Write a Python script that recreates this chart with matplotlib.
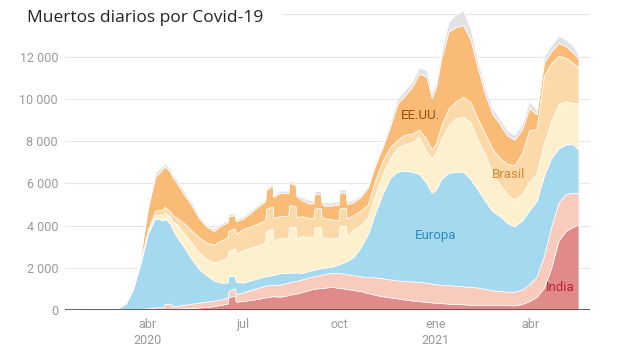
import matplotlib
matplotlib.use("Agg")
import matplotlib.pyplot as plt
import pandas as pd
import numpy as np

# ---- data (daily deaths, 7-day average, in thousands) ----
dates = [
    "2020-01-22", "2020-02-12", "2020-02-26", "2020-03-04", "2020-03-11", "2020-03-18",
    "2020-03-25", "2020-04-01", "2020-04-08", "2020-04-16", "2020-04-17", "2020-04-23",
    "2020-04-24", "2020-04-29", "2020-05-06", "2020-05-13", "2020-05-20", "2020-05-27",
    "2020-06-03", "2020-06-10", "2020-06-16", "2020-06-17", "2020-06-23", "2020-06-24",
    "2020-07-01", "2020-07-08", "2020-07-15", "2020-07-22", "2020-07-23", "2020-07-29",
    "2020-07-30", "2020-08-05", "2020-08-13", "2020-08-14", "2020-08-20", "2020-08-21",
    "2020-08-26", "2020-09-02", "2020-09-06", "2020-09-07", "2020-09-13", "2020-09-14",
    "2020-09-16", "2020-09-23", "2020-09-30", "2020-10-01", "2020-10-07", "2020-10-08",
    "2020-10-14", "2020-10-21", "2020-10-28", "2020-11-04", "2020-11-11", "2020-11-18",
    "2020-11-25", "2020-12-02", "2020-12-09", "2020-12-16", "2020-12-23", "2020-12-28",
    "2021-01-01", "2021-01-06", "2021-01-13", "2021-01-20", "2021-01-27", "2021-02-03",
    "2021-02-10", "2021-02-17", "2021-02-24", "2021-03-03", "2021-03-10", "2021-03-17",
    "2021-03-24", "2021-03-31", "2021-04-07", "2021-04-14", "2021-04-21", "2021-04-28",
    "2021-05-05", "2021-05-12", "2021-05-17",
]
india = [
    0, 0, 0, 0, 0, 0,
    0, 0.01, 0.02, 0.03, 0.03, 0.04,
    0.04, 0.06, 0.08, 0.10, 0.12, 0.15,
    0.18, 0.25, 0.30, 0.60, 0.68, 0.40,
    0.42, 0.48, 0.52, 0.60, 0.60, 0.65,
    0.65, 0.63, 0.70, 0.72, 0.78, 0.78,
    0.85, 0.95, 1.00, 1.00, 1.05, 1.05,
    1.05, 1.10, 1.05, 1.05, 1.00, 1.00,
    0.95, 0.90, 0.80, 0.72, 0.65, 0.60,
    0.55, 0.50, 0.45, 0.42, 0.38, 0.36,
    0.34, 0.33, 0.30, 0.28, 0.27, 0.25,
    0.24, 0.23, 0.23, 0.23, 0.23, 0.22,
    0.28, 0.42, 0.62, 1.05, 2.00, 3.30,
    3.75, 3.95, 4.05,
]
asia = [
    0, 0.08, 0.03, 0.03, 0.03, 0.04,
    0.05, 0.07, 0.10, 0.12, 0.25, 0.26,
    0.13, 0.14, 0.17, 0.20, 0.23, 0.25,
    0.27, 0.25, 0.30, 0.30, 0.35, 0.35,
    0.42, 0.47, 0.53, 0.55, 0.55, 0.55,
    0.55, 0.57, 0.60, 0.60, 0.60, 0.60,
    0.60, 0.60, 0.60, 0.60, 0.62, 0.62,
    0.65, 0.65, 0.70, 0.70, 0.70, 0.70,
    0.70, 0.70, 0.75, 0.83, 0.85, 0.85,
    0.85, 0.88, 0.90, 0.91, 0.92, 0.89,
    0.88, 0.87, 0.88, 0.87, 0.85, 0.85,
    0.82, 0.77, 0.70, 0.67, 0.64, 0.65,
    0.70, 0.80, 0.95, 1.50, 1.95, 1.80,
    1.75, 1.60, 1.50,
]
europa = [
    0, 0, 0.02, 0.07, 0.27, 0.96,
    2.15, 3.52, 4.23, 4.10, 4.08, 3.75,
    3.70, 3.25, 2.70, 2.10, 1.60, 1.25,
    0.95, 0.80, 0.70, 0.70, 0.60, 0.60,
    0.45, 0.45, 0.45, 0.45, 0.45, 0.45,
    0.45, 0.55, 0.45, 0.45, 0.40, 0.40,
    0.30, 0.30, 0.30, 0.30, 0.32, 0.32,
    0.30, 0.30, 0.40, 0.42, 0.60, 0.62,
    0.85, 1.35, 2.05, 3.05, 4.00, 4.80,
    5.15, 5.22, 5.20, 5.12, 4.70, 4.30,
    4.48, 5.00, 5.32, 5.40, 5.43, 5.10,
    4.64, 4.15, 3.75, 3.55, 3.25, 3.10,
    3.25, 3.50, 3.60, 3.80, 3.25, 2.55,
    2.35, 2.30, 2.05,
]
latam = [
    0, 0, 0, 0, 0, 0.02,
    0.05, 0.10, 0.15, 0.27, 0.28, 0.33,
    0.35, 0.60, 0.65, 0.75, 0.80, 0.75,
    0.85, 1.05, 1.20, 1.20, 1.30, 1.30,
    1.55, 1.55, 1.55, 1.60, 2.15, 2.20,
    1.65, 1.65, 1.65, 2.15, 2.15, 1.60,
    1.75, 1.60, 1.55, 2.00, 1.95, 1.50,
    1.40, 1.35, 1.25, 1.80, 1.70, 1.15,
    1.30, 1.05, 0.80, 0.90, 0.95, 0.90,
    1.15, 1.25, 1.40, 1.75, 1.50, 1.65,
    1.75, 1.90, 2.25, 2.55, 2.60, 2.70,
    2.35, 2.20, 1.75, 1.50, 1.35, 1.25,
    1.25, 1.35, 1.30, 1.55, 1.75, 2.10,
    2.05, 1.95, 2.20,
]
brasil = [
    0, 0, 0, 0, 0, 0.02,
    0.05, 0.10, 0.20, 0.25, 0.25, 0.28,
    0.30, 0.30, 0.50, 0.60, 0.70, 0.80,
    0.85, 0.95, 0.95, 0.95, 0.95, 0.95,
    1.00, 1.00, 1.05, 1.05, 1.05, 1.05,
    1.05, 1.05, 1.05, 1.05, 1.00, 1.00,
    0.95, 0.90, 0.90, 0.90, 0.90, 0.90,
    0.95, 0.90, 0.85, 0.85, 0.85, 0.85,
    0.70, 0.70, 0.60, 0.65, 0.60, 0.55,
    0.35, 0.45, 0.40, 0.35, 0.60, 0.40,
    0.45, 0.65, 0.80, 0.80, 0.95, 0.95,
    1.00, 1.00, 1.20, 1.25, 1.45, 1.65,
    1.95, 2.45, 2.10, 3.20, 2.75, 2.30,
    2.05, 1.90, 1.70,
]
eeuu = [
    0, 0, 0, 0, 0, 0.04,
    0.20, 1.00, 1.60, 1.95, 1.93, 1.85,
    1.82, 1.65, 1.35, 1.20, 0.90, 0.75,
    0.65, 0.70, 0.70, 0.70, 0.60, 0.60,
    0.50, 0.65, 0.80, 0.90, 0.90, 1.00,
    1.00, 1.10, 1.10, 1.05, 1.00, 1.00,
    0.75, 0.70, 0.70, 0.70, 0.65, 0.65,
    0.60, 0.65, 0.75, 0.75, 0.70, 0.70,
    0.60, 0.65, 0.80, 0.70, 0.65, 0.95,
    1.70, 1.85, 2.20, 2.65, 2.95, 2.45,
    2.65, 3.15, 3.65, 3.50, 3.40, 2.95,
    2.40, 1.85, 1.65, 1.60, 1.35, 1.20,
    1.10, 1.05, 0.70, 0.60, 0.55, 0.60,
    0.55, 0.50, 0.40,
]
resto = [
    0, 0.01, 0.01, 0.01, 0.02, 0.04,
    0.10, 0.15, 0.20, 0.15, 0.15, 0.15,
    0.15, 0.15, 0.15, 0.15, 0.10, 0.10,
    0.10, 0.10, 0.10, 0.10, 0.10, 0.10,
    0.10, 0.10, 0.10, 0.10, 0.10, 0.10,
    0.10, 0.10, 0.10, 0.10, 0.10, 0.10,
    0.15, 0.15, 0.15, 0.15, 0.15, 0.15,
    0.15, 0.15, 0.15, 0.15, 0.15, 0.15,
    0.10, 0.10, 0.10, 0.15, 0.15, 0.20,
    0.25, 0.25, 0.25, 0.30, 0.30, 0.25,
    0.25, 0.30, 0.45, 0.60, 0.70, 0.50,
    0.35, 0.30, 0.27, 0.25, 0.23, 0.23,
    0.27, 0.33, 0.23, 0.30, 0.30, 0.35,
    0.30, 0.30, 0.20,
]

series = [india, asia, europa, latam, brasil, eeuu, resto]
colors = ["#e08a8a", "#f9cbbd", "#a4d9f0", "#fdf0cc", "#fcd9a8", "#f9bb76", "#e2e2e4"]

yticks = [0, 2000, 4000, 6000, 8000, 10000, 12000]
xtick_dates = ["2020-04-01", "2020-07-01", "2020-10-01", "2021-01-01", "2021-04-01"]
xtick_labels = ["abr\n2020", "jul", "oct", "ene\n2021", "abr"]

labels = [
    ("EE.UU.", "2020-12-17", 9200, "#95501a"),
    ("Brasil", "2021-03-11", 6400, "#d08a35"),
    ("Europa", "2021-01-01", 3550, "#2d8bbd"),
    ("India", "2021-04-30", 1050, "#c41f2e"),
]

# ---- figure ----
fig = plt.figure(figsize=(6.2, 3.49), dpi=100)
ax = fig.add_axes([65 / 620, 39 / 349, 525 / 620, 305 / 349])

x = pd.to_datetime(dates)
ys = [np.array(s) * 1000 for s in series]
ax.stackplot(x, *ys, colors=colors, edgecolor="white", linewidth=0.5, zorder=2)

ax.set_xlim(pd.Timestamp("2020-01-13"), pd.Timestamp("2021-05-28"))
ax.set_ylim(0, 14450)

for v in yticks[1:]:
    ax.axhline(v, color="#e6e6e6", lw=0.8, zorder=0)
ax.axhline(14000, xmin=0.415, xmax=1, color="#e6e6e6", lw=0.8, zorder=0)
ax.axhline(0, color="#555555", lw=1.3, zorder=5)

for s in ax.spines.values():
    s.set_visible(False)

ax.set_yticks(yticks)
ax.set_yticklabels([f"{v:,}".replace(",", " ") for v in yticks])
ax.set_xticks(pd.to_datetime(xtick_dates))
ax.set_xticklabels(xtick_labels, linespacing=1.25)
ax.tick_params(axis="both", length=0, labelsize=9, colors="#999999")
ax.tick_params(axis="y", pad=5)
ax.tick_params(axis="x", pad=6)
for lab in ax.get_xticklabels() + ax.get_yticklabels():
    lab.set_family("Roboto")

for text, d, yv, c in labels:
    ax.text(pd.Timestamp(d), yv, text, color=c, fontsize=9.5, family="Roboto",
            ha="center", va="center", zorder=6)

fig.text(27 / 620, 1 - 18 / 349, "Muertos diarios por Covid-19", family="Open Sans",
         fontsize=12.5, color="#222222", ha="left", va="center")

fig.savefig("out.png", dpi=100)
